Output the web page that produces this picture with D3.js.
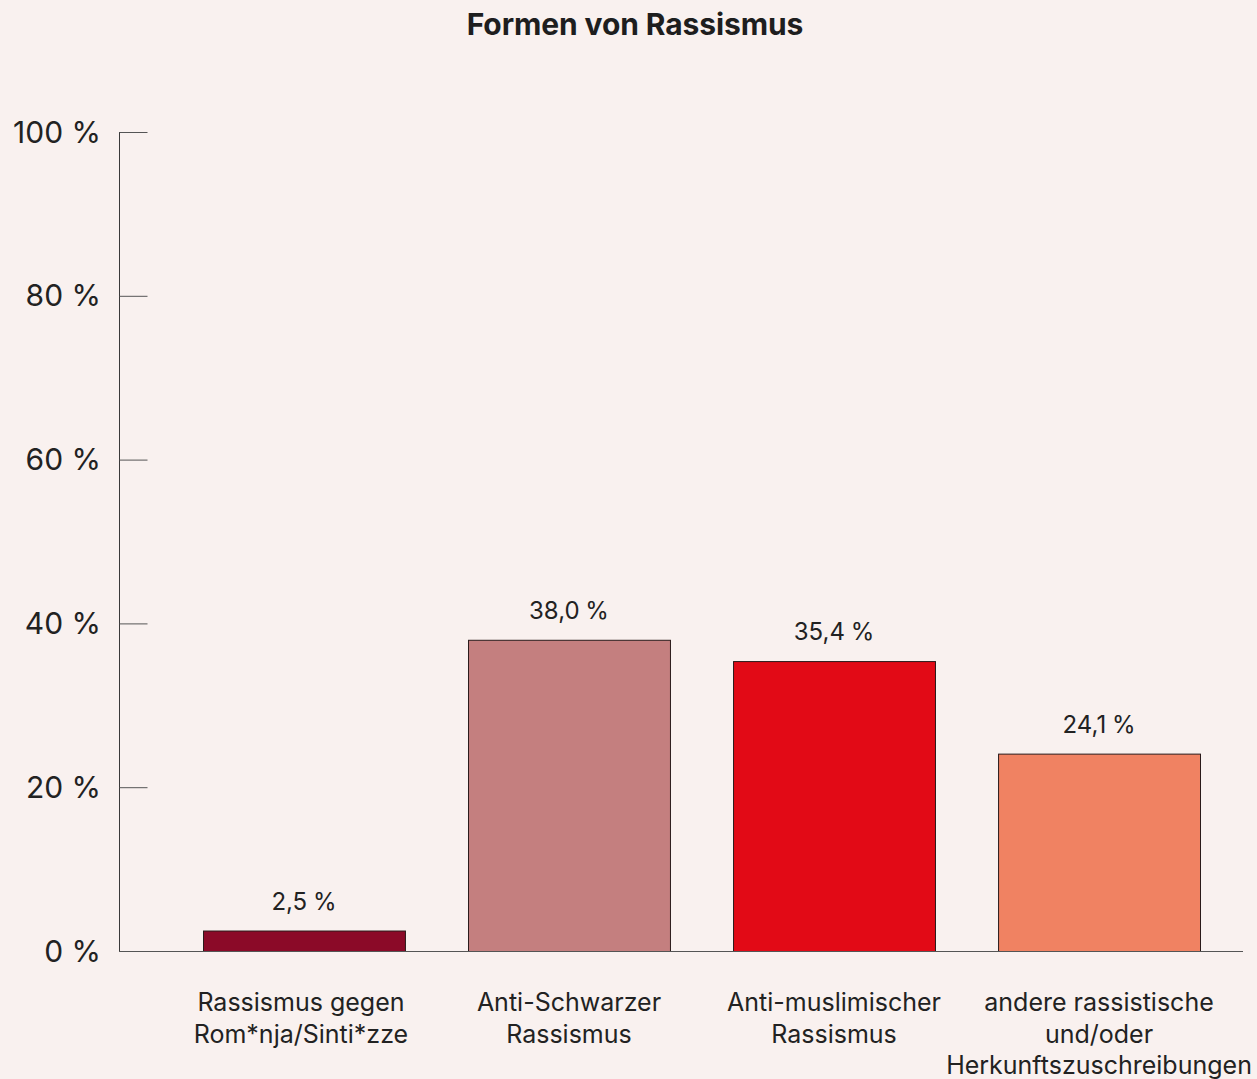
<!DOCTYPE html>
<html><head><meta charset="utf-8">
<script src="https://cdn.jsdelivr.net/npm/d3@7"></script>
<style>
html,body{margin:0;padding:0;background:#f9f1ef;}
svg{display:block;font-family:Inter, "Noto Sans", sans-serif;}
</style></head>
<body>
<svg id="c" width="1257" height="1079"></svg>
<script>
const categories = [
  ["Rassismus gegen","Rom*nja/Sinti*zze"],
  ["Anti-Schwarzer","Rassismus"],
  ["Anti-muslimischer","Rassismus"],
  ["andere rassistische","und/oder","Herkunftszuschreibungen"]
];
const values = [2.5, 38.0, 35.4, 24.1];
const valueLabels = ["2,5 %","38,0 %","35,4 %","24,1 %"];
const colors = ["#8b0a28","#c47f7f","#e20a16","#f08262"];
const yTicks = [0,20,40,60,80,100];
const title = "Formen von Rassismus";

const svg = d3.select("#c");
svg.append("rect").attr("width",1257).attr("height",1079).attr("fill","#f9f1ef");

const x = d3.scaleBand().domain(d3.range(values.length)).range([203,1200]).paddingInner(0.238).paddingOuter(0);
const y = d3.scaleLinear().domain([0,100]).range([951,132]);

svg.append("text").attr("x",635).attr("y",35).attr("text-anchor","middle")
  .attr("font-size",30).attr("font-weight",700).attr("fill","#1e1e1e")
  .attr("letter-spacing",-0.1).text(title);

// y axis
const yAxis = d3.axisRight(y).tickValues(yTicks).tickSize(28).tickFormat(()=>"");
const gy = svg.append("g").attr("transform","translate(119.5,0)").call(yAxis);
gy.select(".domain").attr("stroke","#3a3a3a").attr("d","M0,"+y(100)+"V"+y(0));
gy.selectAll(".tick line").attr("stroke","#555").attr("stroke-width",1);
svg.append("g").selectAll("text").data(yTicks).join("text")
  .attr("x",101).attr("y",d=>y(d)+10.5).attr("text-anchor","end")
  .attr("font-size",30).attr("fill","#222").attr("word-spacing",0).text(d=>d+" %");

// bars
svg.append("g").selectAll("rect").data(values).join("rect")
  .attr("x",(d,i)=>x(i)+0.5).attr("y",d=>y(d)+0.5)
  .attr("width",x.bandwidth()).attr("height",d=>y(0)-y(d))
  .attr("fill",(d,i)=>colors[i]).attr("stroke","#2a1a1a").attr("stroke-width",1);

// baseline
svg.append("line").attr("x1",119).attr("x2",1243).attr("y1",y(0)+0.5).attr("y2",y(0)+0.5)
  .attr("stroke","#555").attr("stroke-width",1.2);

// value labels
svg.append("g").selectAll("text").data(values).join("text")
  .attr("x",(d,i)=>x(i)+x.bandwidth()/2).attr("y",d=>y(d)-21)
  .attr("text-anchor","middle").attr("font-size",24).attr("fill","#222")
  .attr("word-spacing",-1)
  .text((d,i)=>valueLabels[i]);

// category labels
const cg = svg.append("g").selectAll("text").data(categories).join("text")
  .attr("x",(d,i)=>x(i)+x.bandwidth()/2 - (i===0?3:0)).attr("y",1011)
  .attr("text-anchor","middle").attr("font-size",25).attr("fill","#222");
cg.selectAll("tspan").data(d=>d).join("tspan")
  .attr("x",function(){return d3.select(this.parentNode).attr("x");})
  .attr("dy",(d,i)=>i===0?0:31.5).text(d=>d);
</script>
</body></html>
